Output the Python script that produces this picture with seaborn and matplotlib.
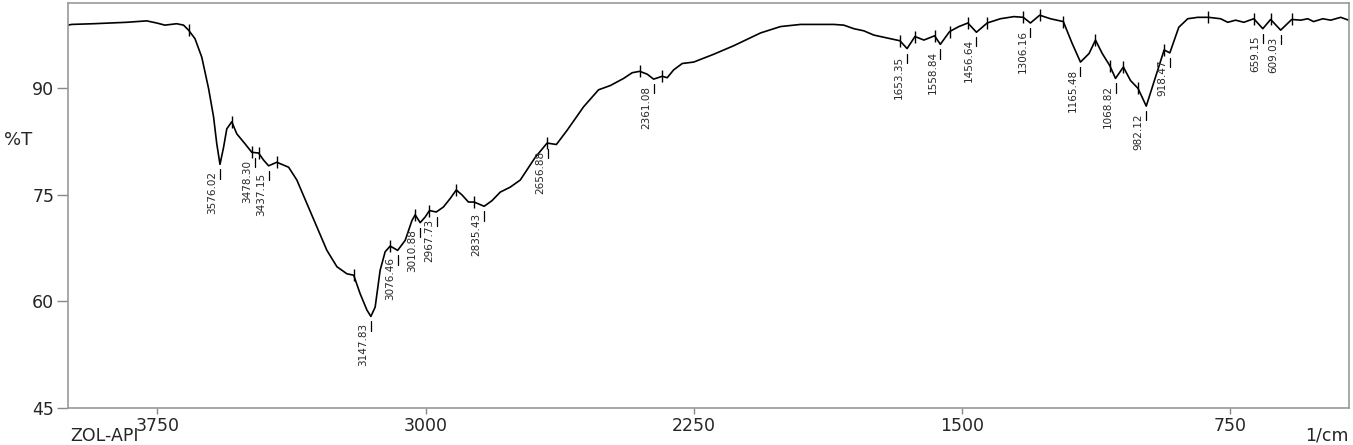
import matplotlib
matplotlib.use('Agg')
import matplotlib.pyplot as plt
from matplotlib.ticker import MultipleLocator
import seaborn as sns

sns.set_style(style='white')
plt.rcParams['font.family'] = ['DejaVu Sans']

# IR spectrum trace (wavenumber 1/cm, %T)
wavenumber = [4000, 3990, 3929, 3882, 3836, 3780, 3752, 3729, 3696, 3677, 3663, 3645, 3626,
              3607, 3593, 3584, 3575, 3565, 3556, 3542, 3528, 3505, 3486, 3467, 3453, 3439,
              3416, 3383, 3360, 3332, 3304, 3276, 3248, 3220, 3201, 3183, 3164, 3153, 3141,
              3127, 3113, 3099, 3078, 3057, 3038, 3029, 3015, 3001, 2989, 2970, 2950, 2931,
              2914, 2898, 2880, 2864, 2836, 2814, 2791, 2763, 2735, 2693, 2660, 2634, 2604,
              2558, 2516, 2483, 2446, 2422, 2401, 2380, 2362, 2338, 2324, 2306, 2282, 2250,
              2194, 2138, 2063, 2007, 1951, 1895, 1858, 1830, 1802, 1774, 1746, 1709, 1673,
              1653, 1631, 1606, 1576, 1560, 1534, 1508, 1483, 1459, 1429, 1392, 1354, 1328,
              1308, 1282, 1252, 1216, 1191, 1168, 1144, 1126, 1107, 1086, 1070, 1048, 1028,
              1007, 984, 958, 934, 918, 893, 868, 840, 810, 776, 756, 734, 711, 683, 658,
              636, 608, 577, 552, 532, 516, 490, 468, 440, 418]
transmittance = [98.9, 99.0, 99.1, 99.2, 99.3, 99.5, 99.2, 98.9, 99.1, 98.9, 98.2, 97.0, 94.4,
                 90.0, 86.0, 82.2, 79.3, 81.7, 84.3, 85.3, 83.6, 82.2, 81.0, 80.9, 79.9, 79.1,
                 79.6, 78.9, 77.1, 73.8, 70.5, 67.2, 64.9, 63.9, 63.7, 61.1, 58.8, 57.9, 59.2,
                 64.4, 67.0, 67.8, 67.2, 68.6, 71.4, 72.2, 71.1, 71.9, 72.8, 72.6, 73.3, 74.5,
                 75.7, 75.0, 74.0, 74.0, 73.4, 74.2, 75.4, 76.1, 77.1, 80.3, 82.3, 82.1, 84.1,
                 87.4, 89.8, 90.4, 91.4, 92.2, 92.4, 92.0, 91.3, 91.7, 91.5, 92.6, 93.5, 93.7,
                 94.8, 96.0, 97.8, 98.7, 99.0, 99.0, 99.0, 98.9, 98.4, 98.1, 97.5, 97.1, 96.7,
                 95.6, 97.3, 96.8, 97.4, 96.2, 98.0, 98.7, 99.2, 97.9, 99.2, 99.8, 100.1, 100.0,
                 99.2, 100.3, 99.8, 99.4, 96.3, 93.7, 94.9, 96.8, 94.9, 93.2, 91.4, 93.0, 91.1,
                 90.0, 87.5, 91.6, 95.4, 95.0, 98.6, 99.8, 100.0, 100.0, 99.8, 99.3, 99.6, 99.3,
                 99.8, 98.4, 99.7, 98.2, 99.7, 99.6, 99.8, 99.4, 99.8, 99.6, 100.0, 99.6]

# labelled peaks
peak_wn = [3575, 3476, 3439, 3153, 3078, 3015, 2967, 2836, 2657, 2362, 1653, 1560, 1459,
           1308, 1168, 1070, 984, 918, 658, 608]
peak_t = [79.3, 80.9, 79.1, 57.9, 67.2, 71.1, 72.6, 73.4, 82.2, 91.3, 95.6, 96.2, 97.9,
          99.2, 93.7, 91.4, 87.5, 95.0, 98.4, 98.2]
peak_labels = ['3576.02', '3478.30', '3437.15', '3147.83', '3076.46', '3010.88', '2967.73',
               '2835.43', '2656.88', '2361.08', '1653.35', '1558.84', '1456.64', '1306.16',
               '1165.48', '1068.82', '982.12', '918.47', '659.15', '609.03']

# boundary marks on the trace
mark_wn = [3663, 3542, 3486, 3467, 3416, 3201, 3099, 3029, 2989, 2914, 2864, 2660, 2401,
           2338, 1673, 1631, 1576, 1534, 1483, 1429, 1328, 1282, 1216, 1126, 1086, 1048,
           1007, 934, 810, 683, 636, 577]
mark_t = [98.2, 85.3, 81.0, 80.9, 79.6, 63.7, 67.8, 72.2, 72.8, 75.7, 74.0, 82.3, 92.4,
          91.7, 96.7, 97.3, 97.4, 98.0, 99.2, 99.2, 100.0, 100.3, 99.4, 96.8, 93.2, 93.0,
          90.0, 95.4, 100.0, 99.8, 99.7, 99.7]

fig = plt.figure(figsize=(13.53, 4.45), dpi=100)
ax = fig.add_axes([0.0503, 0.083, 0.9467, 0.910])

sns.lineplot(x=wavenumber, y=transmittance, sort=False, estimator=None, color='black',
             linewidth=1.2, ax=ax)
ax.plot(mark_wn, mark_t, linestyle='none', marker='|', markersize=9, markeredgewidth=1.0,
        color='black')

for w, t, lab in zip(peak_wn, peak_t, peak_labels):
    ax.plot([w, w], [t - 0.7, t - 2.0], color='black', linewidth=0.9)
    ax.annotate(lab, (w, t), xytext=(-2, -5), textcoords='offset points', rotation=90,
                ha='right', va='top', fontsize=7.5, family='DejaVu Sans')

ax.set_xlim(4000, 417)
ax.set_ylim(45, 102)
ax.xaxis.set_major_locator(MultipleLocator(750))
ax.xaxis.set_minor_locator(MultipleLocator(150))
ax.yaxis.set_major_locator(MultipleLocator(15))
ax.yaxis.set_minor_locator(MultipleLocator(3))
ax.tick_params(axis='both', which='both', direction='out', color='#888888',
               labelsize=12.5, width=1.0)
ax.tick_params(axis='y', which='both', length=8, pad=2)
ax.tick_params(axis='x', which='both', length=4.5, pad=2)
ax.tick_params(left=True, bottom=True)
for s in ax.spines.values():
    s.set_color('#999999')
    s.set_linewidth(1.2)

fig.text(0.003, 0.685, '%T', fontsize=13, ha='left', va='center')
fig.text(0.052, 0.0, 'ZOL-API', fontsize=12.5, ha='left', va='bottom')
fig.text(0.997, 0.0, '1/cm', fontsize=12.5, ha='right', va='bottom')

fig.savefig('out.png', dpi=100)
plt.close(fig)
